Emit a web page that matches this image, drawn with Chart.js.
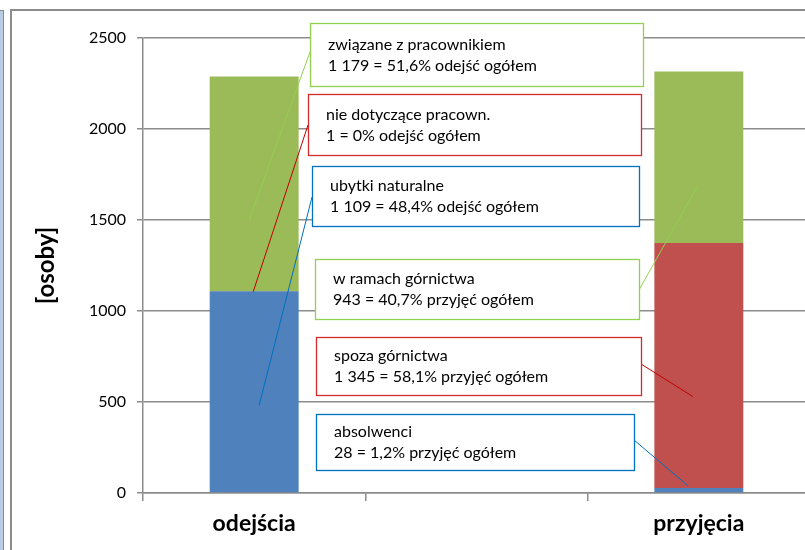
<!DOCTYPE html>
<html>
<head>
<meta charset="utf-8">
<script src="https://cdn.jsdelivr.net/npm/chart.js@4"></script>
<style>
  html, body { margin: 0; padding: 0; background: #fff; overflow: hidden; }
  #wrap { position: absolute; left: 0; top: 0; width: 830px; height: 560px; }
</style>
</head>
<body>
<div id="wrap"><canvas id="wykres" width="830" height="560"></canvas></div>
<script>
// dane
var kategorie = ["odejścia", "", "przyjęcia"];
var seriaNiebieska = [1109, null, 28];   // ubytki naturalne / absolwenci
var seriaCzerwona = [1, null, 1345];     // nie dotyczące pracown. / spoza górnictwa
var seriaZielona = [1179, null, 943];    // związane z pracownikiem / w ramach górnictwa
var osY = [0, 500, 1000, 1500, 2000, 2500];

// opisy w ramkach
var opisLinia1 = ["związane z pracownikiem", "nie dotyczące pracown.", "ubytki naturalne",
                  "w ramach górnictwa", "spoza górnictwa", "absolwenci"];
var opisLinia2 = ["1 179 = 51,6% odejść ogółem", "1 = 0% odejść ogółem", "1 109 = 48,4% odejść ogółem",
                  "943 = 40,7% przyjęć ogółem", "1 345 = 58,1% przyjęć ogółem", "28 = 1,2% przyjęć ogółem"];
// gdzie kończy się linia odnośnika (kategoria, wartość)
var odnosnikKat = [0, 0, 0, 2, 2, 2];
var odnosnikWart = [1500, 1105, 482, 1680, 530, 40];

// wygląd ramek (piksele)
var ramki = [
    { x: 310, y: 23, w: 333, h: 63, kolor: "#92D050", linia: "#92D050", strona: "lewa", ly: 52, dx: -5 },
    { x: 308, y: 94, w: 333, h: 61, kolor: "#D42A2A", linia: "#C00000", strona: "lewa", ly: 125, dx: -1 },
    { x: 312, y: 166, w: 327, h: 60, kolor: "#0070C0", linia: "#0070C0", strona: "lewa", ly: 197, dx: 5 },
    { x: 315, y: 259, w: 324, h: 60, kolor: "#92D050", linia: "#92D050", strona: "prawa", ly: 290, dx: -2 },
    { x: 316, y: 337, w: 325, h: 58, kolor: "#D42A2A", linia: "#C00000", strona: "prawa", ly: 364, dx: -6 },
    { x: 316, y: 414, w: 318, h: 56, kolor: "#0070C0", linia: "#0070C0", strona: "prawa", ly: 440, dx: -11 }
];

var czcionka = "Lato, 'Open Sans', sans-serif";

var ramkaWykresu = {
    id: 'ramkaWykresu',
    beforeDraw: function (chart) {
        var ctx = chart.ctx;
        ctx.save();
        ctx.fillStyle = "#B9CDE5";
        ctx.fillRect(0, 10, 3, 560);
        ctx.fillStyle = "#8C8C8C";
        ctx.fillRect(3, 10, 1, 560);
        ctx.fillRect(0, 10, 4, 1);
        ctx.strokeStyle = "#8C8C8C";
        ctx.lineWidth = 2;
        ctx.beginPath();
        ctx.moveTo(11, 570);
        ctx.lineTo(11, 10);
        ctx.lineTo(840, 10);
        ctx.stroke();
        ctx.restore();
    }
};

var opisy = {
    id: 'opisy',
    afterDatasetsDraw: function (chart) {
        var ctx = chart.ctx;
        var sx = chart.scales.x, sy = chart.scales.y;
        ctx.save();
        for (var i = 0; i < ramki.length; i++) {
            var r = ramki[i];
            var kx = sx.getPixelForValue(odnosnikKat[i]) + r.dx;
            var ky = sy.getPixelForValue(odnosnikWart[i]);
            var startX = r.strona === "lewa" ? r.x : r.x + r.w;
            ctx.strokeStyle = r.linia;
            ctx.lineWidth = 1;
            ctx.beginPath();
            ctx.moveTo(startX, r.ly);
            ctx.lineTo(kx, ky);
            ctx.stroke();

            ctx.fillStyle = "#ffffff";
            ctx.fillRect(r.x, r.y, r.w, r.h);
            ctx.strokeStyle = r.kolor;
            ctx.lineWidth = 1.3;
            ctx.strokeRect(r.x + 0.5, r.y + 0.5, r.w, r.h);

            ctx.fillStyle = "#000000";
            ctx.font = "16px " + czcionka;
            ctx.textBaseline = "middle";
            ctx.textAlign = "left";
            ctx.fillText(opisLinia1[i], r.x + 18, r.y + r.h / 2 - 10);
            ctx.fillText(opisLinia2[i], r.x + 18, r.y + r.h / 2 + 11);
        }
        ctx.restore();
    }
};

var ctx = document.getElementById("wykres").getContext("2d");
var grafico = new Chart(ctx, {
    type: 'bar',
    data: {
        labels: kategorie,
        datasets: [
            { label: "ubytki naturalne / absolwenci", data: seriaNiebieska, backgroundColor: "#4F81BD" },
            { label: "nie dotyczące pracown. / spoza górnictwa", data: seriaCzerwona, backgroundColor: "#C0504D" },
            { label: "związane z pracownikiem / w ramach górnictwa", data: seriaZielona, backgroundColor: "#9BBB59" }
        ]
    },
    options: {
        responsive: false,
        animation: false,
        layout: { padding: { top: 38, right: 20, left: 0, bottom: 0 } },
        datasets: { bar: { barPercentage: 0.4, categoryPercentage: 1 } },
        plugins: {
            legend: { display: false },
            tooltip: { enabled: false }
        },
        scales: {
            x: {
                stacked: true,
                border: { color: "#8C8C8C", width: 1.5 },
                grid: { offset: true, drawOnChartArea: false, drawTicks: true, tickLength: 8, color: "#8C8C8C", lineWidth: 1.5 },
                ticks: { color: "#000", padding: 9, font: { family: czcionka, size: 23, weight: "bold" } },
                afterFit: function (scale) { scale.height = 67; }
            },
            y: {
                stacked: true,
                min: 0,
                max: 2500,
                border: { color: "#8C8C8C", width: 1.5 },
                grid: { color: "#8C8C8C", lineWidth: 1.5, tickLength: 6 },
                afterBuildTicks: function (scale) {
                    scale.ticks = osY.map(function (v) { return { value: v }; });
                },
                ticks: {
                    color: "#000", padding: 11, font: { family: czcionka, size: 16 },
                    callback: function (v) { return String(v); }
                },
                title: {
                    display: true,
                    text: "[osoby]",
                    color: "#000",
                    padding: { top: 32, bottom: 0 },
                    font: { family: czcionka, size: 24, weight: "bold" }
                },
                afterFit: function (scale) { scale.width = 143; }
            }
        }
    },
    plugins: [ramkaWykresu, opisy]
});
</script>
</body>
</html>
